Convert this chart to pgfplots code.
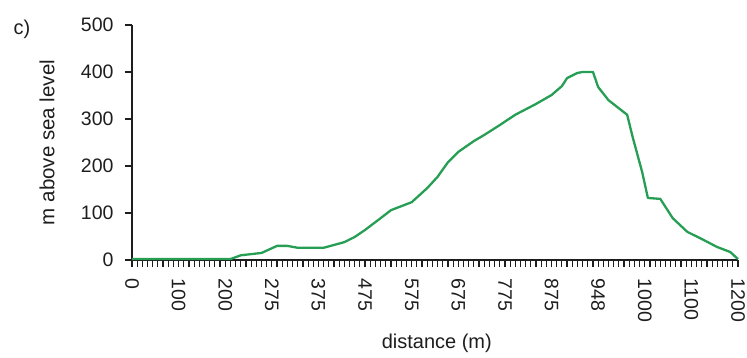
\documentclass[border=0pt]{standalone}
\usepackage{pgfplots}
\pgfplotsset{compat=1.18}
\usepackage{fontspec}
\setmainfont{Liberation Sans}
\definecolor{profgreen}{RGB}{38,158,84}
\definecolor{axgray}{RGB}{30,30,30}
\begin{document}
\begin{tikzpicture}
\useasboundingbox (-132pt,-98pt) rectangle (615pt,260pt);
\begin{axis}[
  at={(0,0)}, anchor=south west,
  scale only axis,
  width=606pt, height=235pt,
  xmin=0, xmax=117, ymin=0, ymax=500,
  axis x line=bottom, axis y line=left,
  axis line style={-, axgray, line width=1.4pt},
  xtick={0,9,...,117},
  xticklabels={0,100,200,275,375,475,575,675,775,875,948,1000,1100,1200},
  minor xtick={0,...,117},
  ytick={0,100,...,500},
  tick align=outside,
  major tick length=7pt, minor tick length=7pt,
  every tick/.style={axgray, line width=1.2pt},
  /pgf/number format/assume math mode=true,
  tick label style={font=\fontsize{19.5}{22}\selectfont, text=axgray},
  xticklabel style={rotate=-90, anchor=west},
  xticklabel shift=8pt,
  yticklabel shift=8pt,
  xlabel={distance (m)},
  ylabel={m above sea level},
  every axis x label/.style={at={(axis description cs:0.503,-0.353)}, anchor=center, font=\fontsize{20}{24}\selectfont, text=axgray},
  every axis y label/.style={at={(axis description cs:-0.14,0.5)}, anchor=center, rotate=90, font=\fontsize{20.5}{24}\selectfont, text=axgray},
  clip=false,
]
\addplot[profgreen, line width=2.3pt, line join=round] coordinates {
(0,2) (10,2) (19,2) (21,10) (25,15) (28,30) (30,30) (32,26) (37,26)
(39,32) (41,38) (43,49) (45,64) (48,89) (50,106) (54,123) (57,153)
(59,177) (61,208) (63,230) (66,253) (68,266) (71,287) (74,309)
(78,332) (81,351) (83,370) (84,387) (86,398) (87,400) (89,400)
(90,368) (92,340) (95.6,309) (96.7,260) (98.5,187) (99.6,132)
(102,130) (104.4,89) (107.2,60) (110.3,43) (112.9,28) (115.5,17) (117,2)
};
\node[font=\fontsize{20}{24}\selectfont, text=axgray] at (axis description cs:-0.1815,0.983) {c)};
\end{axis}
\end{tikzpicture}
\end{document}
